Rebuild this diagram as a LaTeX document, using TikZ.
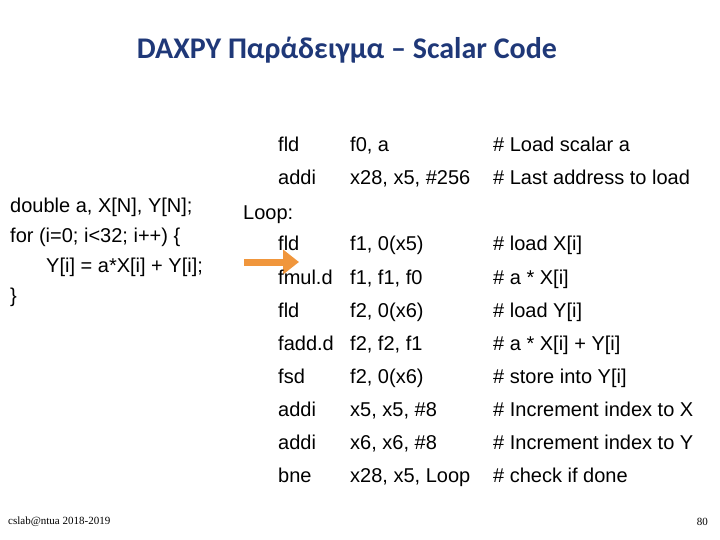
\documentclass[tikz,border=0pt]{standalone}
\usepackage{fontspec}
\setmainfont{Liberation Sans}
\newfontfamily\titlefont{Carlito}
\newfontfamily\footfont{Liberation Serif}
\usetikzlibrary{arrows.meta}
\definecolor{titleblue}{RGB}{31,56,120}
\definecolor{arroworange}{RGB}{240,150,60}
\begin{document}
\begin{tikzpicture}[x=1pt,y=-1pt,
  code/.style={anchor=base west,inner sep=0pt,font=\fontsize{20}{22}\selectfont},
  foot/.style={inner sep=0pt,font=\footfont\fontsize{11}{13}\selectfont}]
  \useasboundingbox (0,0) rectangle (720,540);
  \node[text=titleblue,font=\titlefont\bfseries\fontsize{30}{34}\selectfont] (title) at (347,50) {DAXPY Παράδειγμα – Scalar Code};
  % C source
  \node[code] (c1) at (10,212) {double a, X[N], Y[N];};
  \node[code] (c2) at (10,242) {for (i=0; i<32; i++) \{};
  \node[code] (c3) at (46,272) {Y[i] = a*X[i] + Y[i];};
  \node[code] (c4) at (10,302) {\}};
  % arrow
  \coordinate (a1) at (244,262);
  \coordinate (a2) at (299,262);
  \draw[arroworange,line width=7pt,-{Triangle[length=16pt,width=24pt]}] (a1) -- (a2);
  % assembly
  \node[code] (loop) at (243,219) {Loop:};
  \foreach \y/\op/\arg/\cm [count=\i] in {
     145/fld/{f0, a}/{\# Load scalar a},
     178/addi/{x28, x5, \#256}/{\# Last address to load},
     244/fld/{f1, 0(x5)}/{\# load X[i]},
     277/fmul.d/{f1, f1, f0}/{\# a * X[i]},
     310/fld/{f2, 0(x6)}/{\# load Y[i]},
     343/fadd.d/{f2, f2, f1}/{\# a * X[i] + Y[i]},
     376/fsd/{f2, 0(x6)}/{\# store into Y[i]},
     409/addi/{x5, x5, \#8}/{\# Increment index to X},
     442/addi/{x6, x6, \#8}/{\# Increment index to Y},
     475/bne/{x28, x5, Loop}/{\# check if done}} {
    \node[code] (op\i) at (278,\y+7) {\op};
    \node[code] (arg\i) at (350,\y+7) {\arg};
    \node[code] (cm\i) at (493,\y+7) {\cm};
  }
  % footer
  \node[foot,anchor=west] (src) at (8,522) {cslab@ntua 2018-2019};
  \node[foot,anchor=east] (page) at (708,522) {80};
\end{tikzpicture}
\end{document}
